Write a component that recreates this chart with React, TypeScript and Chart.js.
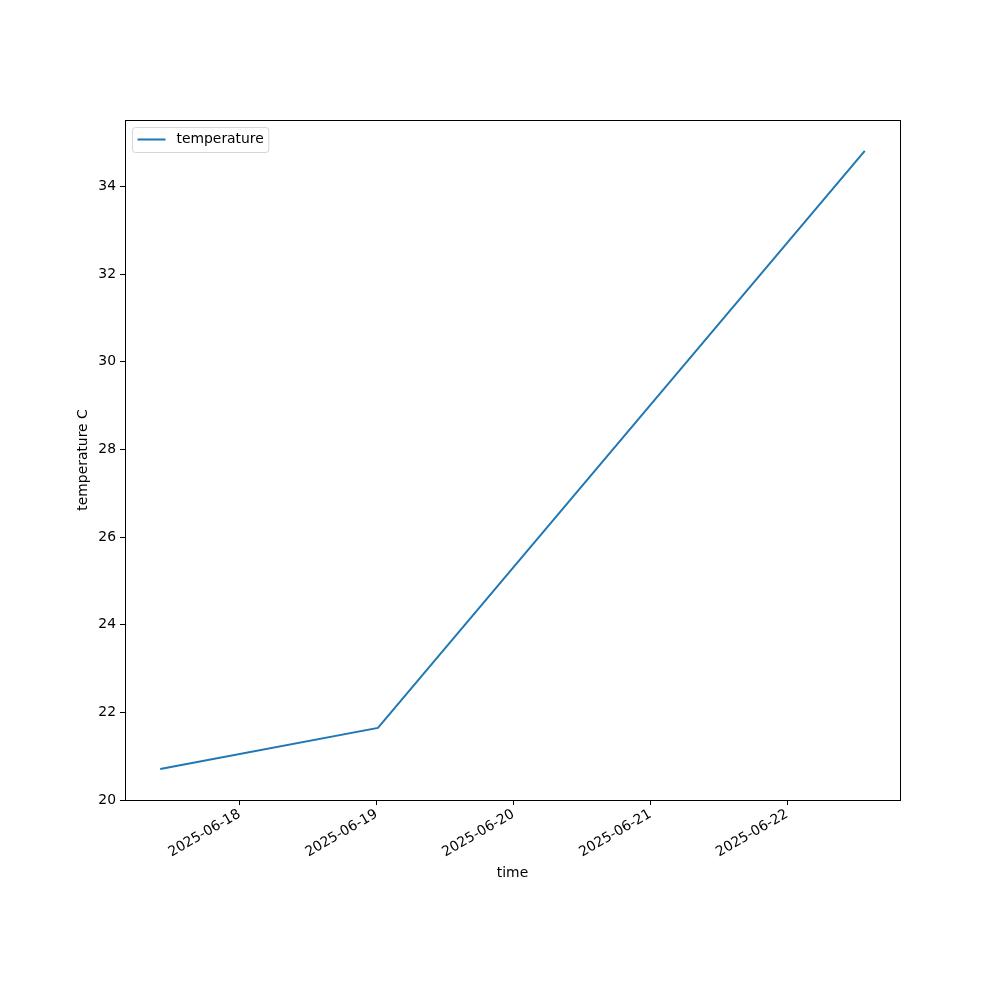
import React, { useEffect, useRef } from "react";
import { Chart, registerables } from "chart.js";

Chart.register(...registerables);

const times = ["2025-06-17T10:05:00Z", "2025-06-19T00:15:00Z", "2025-06-22T13:36:00Z"];
const temperature = [20.71, 21.65, 34.81];
const xTickDates = ["2025-06-18", "2025-06-19", "2025-06-20", "2025-06-21", "2025-06-22"];
const yTicks = [20, 22, 24, 26, 28, 30, 32, 34];
const seriesLabel = "temperature";
const xTitle = "time";
const yTitle = "temperature C";

const FONT = "DejaVu Sans";
const LINE_COLOR = "#1f77b4";

function withMargin(vals: number[], frac = 0.05): [number, number] {
  const lo = Math.min(...vals);
  const hi = Math.max(...vals);
  const m = (hi - lo) * frac;
  return [lo - m, hi + m];
}

const framePlugin = {
  id: "frame",
  afterDatasetsDraw(chart: any) {
    const { ctx, chartArea } = chart;
    ctx.save();
    ctx.strokeStyle = "#000";
    ctx.lineWidth = 1;
    ctx.strokeRect(
      Math.round(chartArea.left) + 0.5,
      Math.round(chartArea.top) + 0.5,
      Math.round(chartArea.right - chartArea.left),
      Math.round(chartArea.bottom - chartArea.top)
    );
    ctx.restore();
  },
  afterDraw(chart: any) {
    const { ctx, chartArea } = chart;
    const x0 = chartArea.left + 7.5;
    const y0 = chartArea.top + 7.5;
    ctx.save();
    ctx.font = `13.9px "${FONT}"`;
    const tw = ctx.measureText(seriesLabel).width;
    const w = 44 + tw + 5;
    const h = 25;
    const r = 3;
    ctx.beginPath();
    ctx.moveTo(x0 + r, y0);
    ctx.lineTo(x0 + w - r, y0);
    ctx.quadraticCurveTo(x0 + w, y0, x0 + w, y0 + r);
    ctx.lineTo(x0 + w, y0 + h - r);
    ctx.quadraticCurveTo(x0 + w, y0 + h, x0 + w - r, y0 + h);
    ctx.lineTo(x0 + r, y0 + h);
    ctx.quadraticCurveTo(x0, y0 + h, x0, y0 + h - r);
    ctx.lineTo(x0, y0 + r);
    ctx.quadraticCurveTo(x0, y0, x0 + r, y0);
    ctx.closePath();
    ctx.fillStyle = "rgba(255,255,255,0.8)";
    ctx.fill();
    ctx.strokeStyle = "rgba(204,204,204,0.8)";
    ctx.lineWidth = 1;
    ctx.stroke();
    ctx.strokeStyle = LINE_COLOR;
    ctx.lineWidth = 2;
    ctx.beginPath();
    ctx.moveTo(x0 + 5, y0 + 12);
    ctx.lineTo(x0 + 33, y0 + 12);
    ctx.stroke();
    ctx.fillStyle = "#000";
    ctx.textBaseline = "middle";
    ctx.textAlign = "left";
    ctx.fillText(seriesLabel, x0 + 44, y0 + 12);
    ctx.restore();
  },
};

export default function App() {
  const ref = useRef<HTMLCanvasElement | null>(null);
  useEffect(() => {
    if (!ref.current) return;
    const xs = times.map((t) => Date.parse(t));
    const [xMin, xMax] = withMargin(xs);
    const [yMin, yMax] = withMargin(temperature);
    const xTickVals = xTickDates.map((d) => Date.parse(d + "T00:00:00Z"));
    const tickFont = { family: FONT, size: 13.9 };
    const chart = new Chart(ref.current, {
      type: "line",
      data: {
        datasets: [
          {
            label: seriesLabel,
            data: xs.map((x, i) => ({ x, y: temperature[i] })),
            borderColor: LINE_COLOR,
            backgroundColor: LINE_COLOR,
            borderWidth: 2,
            pointRadius: 0,
            tension: 0,
            fill: false,
          },
        ],
      },
      options: {
        animation: false,
        responsive: false,
        maintainAspectRatio: false,
        layout: { padding: { top: 120, right: 100, left: 0, bottom: 0 } },
        plugins: { legend: { display: false }, tooltip: { enabled: false } },
        scales: {
          x: {
            type: "linear",
            min: xMin,
            max: xMax,
            afterFit: (s: any) => {
              s.height = 200;
            },
            afterBuildTicks: (s: any) => {
              s.ticks = xTickVals.map((v) => ({ value: v }));
            },
            grid: { display: true, drawOnChartArea: false, drawTicks: true, tickLength: 5, color: "#000", lineWidth: 1 },
            border: { display: true, color: "#000", width: 1 },
            ticks: {
              autoSkip: false,
              maxRotation: 30,
              minRotation: 30,
              padding: 1,
              color: "#000",
              font: tickFont,
              callback: (v: any) => new Date(Number(v)).toISOString().slice(0, 10),
            },
            title: {
              display: true,
              text: xTitle,
              color: "#000",
              font: tickFont,
              padding: { top: 0, bottom: 118 },
            },
          },
          y: {
            type: "linear",
            min: yMin,
            max: yMax,
            afterFit: (s: any) => {
              s.width = 125;
            },
            afterBuildTicks: (s: any) => {
              s.ticks = yTicks.map((v) => ({ value: v }));
            },
            grid: { display: true, drawOnChartArea: false, drawTicks: true, tickLength: 5, color: "#000", lineWidth: 1 },
            border: { display: true, color: "#000", width: 1 },
            ticks: {
              padding: 4,
              color: "#000",
              font: tickFont,
              callback: (v: any) => String(v),
            },
            title: {
              display: true,
              text: yTitle,
              color: "#000",
              font: tickFont,
              padding: { top: 75, bottom: 0 },
            },
          },
        },
      },
      plugins: [framePlugin],
    } as any);
    return () => chart.destroy();
  }, []);
  return (
    <div style={{ position: "absolute", left: 0, top: 0, width: 1000, height: 1000, background: "#fff" }}>
      <canvas ref={ref} width={1000} height={1000} style={{ width: 1000, height: 1000 }} />
    </div>
  );
}
